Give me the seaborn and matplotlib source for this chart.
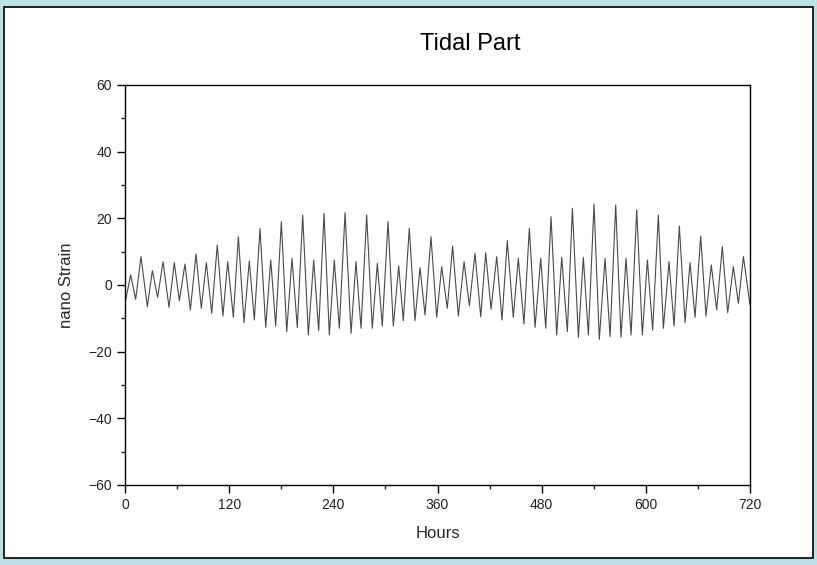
import matplotlib
matplotlib.use('Agg')
import matplotlib.pyplot as plt
from matplotlib.patches import Rectangle
from matplotlib.ticker import MultipleLocator
import seaborn as sns
import pandas as pd

# turning points of the tidal strain (hours, nano strain)
hours = [0, 6.5, 12.3, 18.4, 25.7, 31.5, 37.6, 43.8, 50.7, 56.8, 62.6, 69.1, 75.3, 81.8,
         87.9, 93.7, 99.9, 106.3, 112.8, 118.3, 124.8, 130.6, 137.1, 143.2, 149.0, 155.5,
         162.1, 167.9, 173.6, 180.1, 186.3, 192.4, 198.5, 204.7, 211.2, 217.4, 223.1, 229.3,
         235.4, 241.1, 246.9, 253.5, 260.4, 266.1, 271.9, 278.4, 284.9, 290.7, 296.4, 303.0,
         309.1, 315.3, 320.6, 327.5, 334.1, 339.9, 345.6, 352.5, 359.1, 364.8, 371.3, 377.4,
         384.0, 390.6, 396.7, 403.2, 409.8, 415.5, 421.7, 428.2, 434.3, 440.4, 447.3, 453.1,
         459.6, 465.8, 472.4, 478.9, 484.7, 490.8, 497.3, 503.1, 509.6, 515.4, 522.3, 528.0,
         533.8, 540.3, 546.4, 553.0, 558.8, 565.3, 571.4, 577.2, 583.0, 589.5, 596.0, 601.8,
         607.9, 614.4, 620.2, 626.7, 632.5, 638.6, 645.2, 650.9, 656.7, 663.2, 669.3, 675.4,
         681.6, 688.1, 694.3, 700.8, 706.6, 712.4, 720]
strain = [-5.5, 3.0, -4.3, 8.5, -6.5, 4.3, -3.7, 7.0, -6.7, 6.7, -4.7, 6.3, -7.5, 9.3,
          -7.0, 6.7, -8.5, 12.0, -9.3, 7.0, -9.7, 14.5, -11.3, 7.2, -10.5, 17.0,
          -12.7, 7.5, -12.3, 19.0, -14.0, 8.0, -12.8, 21.0, -15.0, 7.5, -13.7, 21.5,
          -15.0, 7.5, -13.0, 21.7, -14.5, 7.0, -13.0, 21.0, -13.0, 6.5, -12.3, 19.0,
          -12.3, 5.7, -10.7, 17.0, -10.7, 5.2, -9.0, 14.5, -9.7, 5.5, -7.0, 11.7,
          -9.3, 7.0, -6.3, 9.5, -9.5, 9.7, -7.3, 8.5, -10.5, 13.3, -9.7, 8.0,
          -11.7, 17.0, -12.7, 8.0, -13.0, 20.5, -15.0, 8.3, -14.0, 23.0, -15.7, 8.3,
          -15.0, 24.3, -16.3, 8.0, -15.5, 24.0, -15.7, 8.0, -15.0, 22.5, -15.0, 7.5,
          -13.5, 21.0, -13.0, 7.0, -12.3, 17.7, -11.3, 6.7, -9.7, 14.7, -9.3, 6.0,
          -7.5, 11.5, -8.3, 5.5, -5.5, 8.5, -6.0]

x_ticks = [0, 120, 240, 360, 480, 600, 720]
y_ticks = [-60, -40, -20, 0, 20, 40, 60]

df = pd.DataFrame({'Hours': hours, 'nano Strain': strain})

sns.set_style('white')
plt.rcParams['font.family'] = ['Liberation Sans', 'DejaVu Sans']

fig = plt.figure(figsize=(8.17, 5.65), dpi=100)
fig.patch.set_facecolor('#bde0e5')
# white panel with black border, behind the axes
fig.patches.append(Rectangle((4 / 817, 1 - 558 / 565), 809 / 817, 551 / 565,
                             transform=fig.transFigure, facecolor='white',
                             edgecolor='black', linewidth=1.2, zorder=-5))

ax = fig.add_axes([125 / 817, 1 - 485 / 565, 625 / 817, 400 / 565])
ax.set_zorder(2)
ax.set_facecolor('white')
sns.lineplot(data=df, x='Hours', y='nano Strain', color='#4a4a4a', linewidth=0.8, ax=ax)
ax.lines[0].set_solid_joinstyle('round')

ax.set_xlim(0, 720)
ax.set_ylim(-60, 60)
ax.set_xticks(x_ticks)
ax.set_yticks(y_ticks)
ax.yaxis.set_minor_locator(MultipleLocator(10))
ax.xaxis.set_minor_locator(MultipleLocator(60))
ax.tick_params(axis='both', which='major', direction='out', length=6, width=1,
               labelsize=10, colors='black', labelcolor='#222222',
               bottom=True, left=True, top=False, right=False)
ax.tick_params(axis='both', which='minor', direction='out', length=3, width=1,
               bottom=True, left=True, top=False, right=False)
for s in ax.spines.values():
    s.set_color('black')
    s.set_linewidth(1.0)

ax.set_xlabel('Hours', fontsize=12, labelpad=10)
ax.set_ylabel('nano Strain', fontsize=12, labelpad=10)
fig.text(470 / 817, 1 - 44 / 565, 'Tidal Part', fontsize=17,
         ha='center', va='center', color='black', zorder=3)

fig.savefig('out.png', dpi=100, facecolor=fig.get_facecolor())
